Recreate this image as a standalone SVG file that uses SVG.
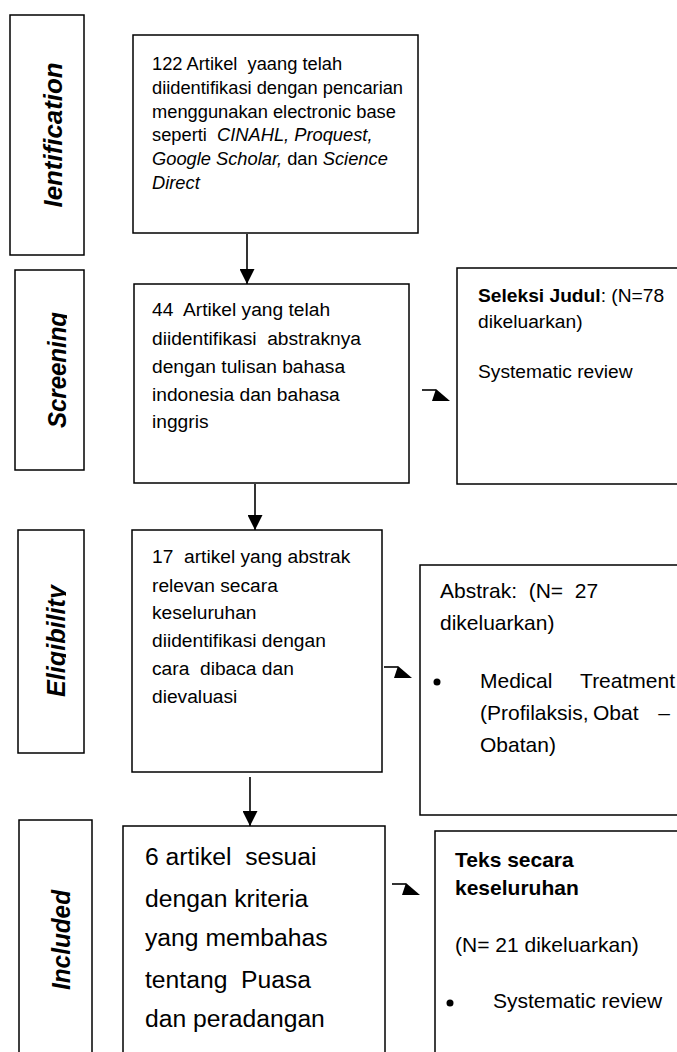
<svg xmlns="http://www.w3.org/2000/svg" width="677" height="1052" viewBox="0 0 677 1052">
<defs>
<style>
.box{fill:#fff;stroke:#000;stroke-width:1.5}
.t{font-family:"Liberation Sans",Arial,sans-serif;fill:#000}
.side{font-family:"Liberation Sans",Arial,sans-serif;font-weight:bold;font-style:italic;font-size:25px;text-anchor:middle;fill:#000}
.f1{font-size:18.3px}
.f2{font-size:19.2px}
.f4{font-size:24.7px}
.f5{font-size:21px}
.i{font-style:italic}
.b{font-weight:bold}
.ln{stroke:#000;stroke-width:1.6;fill:none}
</style>
<marker id="ah" markerUnits="userSpaceOnUse" markerWidth="15" markerHeight="15" viewBox="0 0 15 15" refX="15" refY="7.5" orient="auto"><path d="M0,0 L15,7.5 L0,15 Z" fill="#000"/></marker>
<g id="bent"><path d="M0,0 H14" stroke="#000" stroke-width="1.6" fill="none"/><polygon points="14,-1 28,11 10,11" fill="#000"/></g>
<clipPath id="clipS"><rect x="0" y="260" width="67" height="220"/></clipPath>
<clipPath id="clipE"><rect x="0" y="520" width="66" height="240"/></clipPath>
</defs>
<rect width="677" height="1052" fill="#fff"/>

<g id="stage-identification">
<rect class="box" x="10" y="15" width="74" height="240"/>
<text class="side" transform="translate(62,135) rotate(-90)" textLength="145" lengthAdjust="spacingAndGlyphs">Ientification</text>
</g>
<g id="stage-screening">
<rect class="box" x="15" y="270" width="69" height="200"/>
<g clip-path="url(#clipS)"><text class="side" transform="translate(66,370) rotate(-90)" textLength="116" lengthAdjust="spacingAndGlyphs">Screening</text></g>
</g>
<g id="stage-eligibility">
<rect class="box" x="18" y="530" width="66" height="223"/>
<g clip-path="url(#clipE)"><text class="side" transform="translate(65,641) rotate(-90)" textLength="112" lengthAdjust="spacingAndGlyphs">Eligibility</text></g>
</g>
<g id="stage-included">
<rect class="box" x="19" y="820" width="73" height="250"/>
<text class="side" transform="translate(70,940) rotate(-90)" textLength="100" lengthAdjust="spacingAndGlyphs">Included</text>
</g>

<g id="box-identified">
<rect class="box" x="133" y="35" width="285" height="198"/>
<text class="t f1" x="152" y="70" xml:space="preserve">122 Artikel  yaang telah</text>
<text class="t f1" x="152" y="94">diidentifikasi dengan pencarian</text>
<text class="t f1" x="152" y="117.5">menggunakan electronic base</text>
<text class="t f1" x="152" y="141" xml:space="preserve">seperti  <tspan class="i">CINAHL, Proquest,</tspan></text>
<text class="t f1" x="152" y="165" xml:space="preserve"><tspan class="i">Google Scholar,</tspan> dan <tspan class="i">Science</tspan></text>
<text class="t f1 i" x="152" y="188.5">Direct</text>
</g>

<g id="box-screened">
<rect class="box" x="134" y="284" width="275" height="199"/>
<text class="t f2" x="152" y="316" xml:space="preserve">44  Artikel yang telah</text>
<text class="t f2" x="152" y="345" xml:space="preserve">diidentifikasi  abstraknya</text>
<text class="t f2" x="152" y="373">dengan tulisan bahasa</text>
<text class="t f2" x="152" y="401">indonesia dan bahasa</text>
<text class="t f2" x="152" y="428">inggris</text>
</g>

<g id="box-title-excluded">
<rect class="box" x="457" y="268" width="240" height="216"/>
<text class="t f2" x="478" y="302"><tspan class="b">Seleksi Judul</tspan>: (N=78</text>
<text class="t f2" x="478" y="328">dikeluarkan)</text>
<text class="t f2" x="478" y="378">Systematic review</text>
</g>

<g id="box-eligible">
<rect class="box" x="132" y="530" width="250" height="242"/>
<text class="t f2" x="152" y="563" xml:space="preserve">17  artikel yang abstrak</text>
<text class="t f2" x="152" y="592">relevan secara</text>
<text class="t f2" x="152" y="619">keseluruhan</text>
<text class="t f2" x="152" y="647">diidentifikasi dengan</text>
<text class="t f2" x="152" y="675" xml:space="preserve">cara  dibaca dan</text>
<text class="t f2" x="152" y="703">dievaluasi</text>
</g>

<g id="box-abstract-excluded">
<rect class="box" x="420" y="565" width="280" height="250"/>
<text class="t f5" x="440" y="598" xml:space="preserve">Abstrak:  (N=  27</text>
<text class="t f5" x="440" y="630">dikeluarkan)</text>
<circle cx="437" cy="682" r="3.5" fill="#000"/>
<text class="t f5" x="480" y="688">Medical</text>
<text class="t f5" x="675" y="688" text-anchor="end">Treatment</text>
<text class="t f5" x="480" y="720">(Profilaksis,</text>
<text class="t f5" x="593" y="720">Obat</text>
<text class="t f5" x="670" y="720" text-anchor="end">–</text>
<text class="t f5" x="480" y="752">Obatan)</text>
</g>

<g id="box-included">
<rect class="box" x="123" y="826" width="262" height="250"/>
<text class="t f4" x="145" y="865" xml:space="preserve">6 artikel  sesuai</text>
<text class="t f4" x="145" y="907">dengan kriteria</text>
<text class="t f4" x="145" y="946">yang membahas</text>
<text class="t f4" x="145" y="988" xml:space="preserve">tentang  Puasa</text>
<text class="t f4" x="145" y="1027">dan peradangan</text>
</g>

<g id="box-fulltext-excluded">
<rect class="box" x="435" y="831" width="265" height="250"/>
<text class="t f5 b" x="455" y="867">Teks secara</text>
<text class="t f5 b" x="455" y="895">keseluruhan</text>
<text class="t f5" x="455" y="952">(N= 21 dikeluarkan)</text>
<circle cx="450" cy="1003" r="3.5" fill="#000"/>
<text class="t f5" x="493" y="1008">Systematic review</text>
</g>

<g id="connectors">
<path class="ln" d="M247,234 V284" marker-end="url(#ah)"/>
<path class="ln" d="M255,484 V530" marker-end="url(#ah)"/>
<path class="ln" d="M250,777 V826" marker-end="url(#ah)"/>
<use href="#bent" x="422" y="390"/>
<use href="#bent" x="384" y="667"/>
<use href="#bent" x="392" y="884"/>
</g>
</svg>
